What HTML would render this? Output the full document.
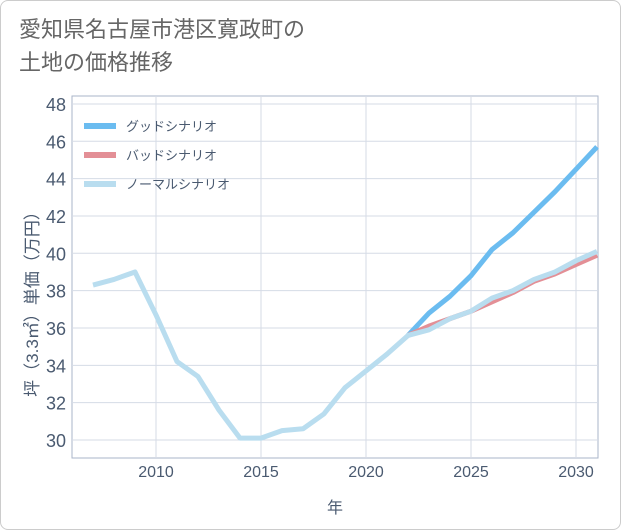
<!DOCTYPE html>
<html><head><meta charset="utf-8"><style>
body{margin:0;background:#fff;}
#wrap{position:relative;width:619px;height:528px;border:1px solid #ccc;border-radius:8px;background:#fff;overflow:hidden;font-family:"Liberation Sans","Noto Sans CJK JP",sans-serif;}
#title{position:absolute;left:18px;top:12px;font-size:22px;line-height:33px;color:#666;}
svg text{font-family:"Liberation Sans","Noto Sans CJK JP",sans-serif;}
</style></head><body>
<div id="wrap">
<div id="title">愛知県名古屋市港区寛政町の<br>土地の価格推移</div>
<svg id="chart" width="621" height="530" style="position:absolute;left:-1px;top:-1px"></svg>
</div>
<script>
const years=[2007,2008,2009,2010,2011,2012,2013,2014,2015,2016,2017,2018,2019,2020,2021,2022,2023,2024,2025,2026,2027,2028,2029,2030,2031];
const normalVals=[38.3,38.6,39.0,36.7,34.2,33.4,31.6,30.1,30.1,30.5,30.6,31.4,32.8,33.7,34.6,35.6,35.9,36.5,36.9,37.6,38.0,38.6,39.0,39.6,40.1];
const futureYears=[2022,2023,2024,2025,2026,2027,2028,2029,2030,2031];
const goodVals=[35.6,36.8,37.7,38.8,40.2,41.1,42.2,43.3,44.5,45.7];
const badVals=[35.6,36.1,36.5,36.9,37.4,37.9,38.5,38.9,39.4,39.9];
const yTicks=[30,32,34,36,38,40,42,44,46,48];
const xTicks=[2010,2015,2020,2025,2030];
const NS="http://www.w3.org/2000/svg";
const svg=document.getElementById('chart');
const L=72,R=598,T=96,B=458;
const xs=y=>156+(y-2010)*21;
const ys=v=>440-(v-30)*18.67;
function mk(t,a,p){const e=document.createElementNS(NS,t);for(const k in a)e.setAttribute(k,a[k]);(p||svg).appendChild(e);return e;}
const bg=mk('rect',{x:L,y:T,width:R-L,height:B-T,fill:'#fff',stroke:'#aab4c8'});


yTicks.forEach(v=>{
 const g=mk('line',{x1:L,x2:R,y1:ys(v),y2:ys(v),stroke:'#d5dbe6'});
 
 
 const t=mk('text',{x:66,y:ys(v)+7,'text-anchor':'end','font-size':18,fill:'#4a5a70'});
 t.textContent=v;
 
 
});
xTicks.forEach(v=>{
 const g=mk('line',{x1:xs(v),x2:xs(v),y1:T,y2:B,stroke:'#d5dbe6'});
 
 
 const t=mk('text',{x:xs(v),y:477,'text-anchor':'middle','font-size':16,fill:'#4a5a70'});
 t.textContent=v;
 
 
});
const xt=mk('text',{x:335,y:513,'text-anchor':'middle','font-size':16,fill:'#4a5a70'});
xt.textContent='年';


const yt=mk('text',{x:0,y:0,'text-anchor':'middle','font-size':17,fill:'#4a5a70',transform:'translate(38,300) rotate(-90)'});
yt.textContent='坪（3.3㎡）単価（万円）';


function line(xv,yv,color,name){
 const p=mk('polyline',{points:xv.map((x,i)=>xs(x)+','+ys(yv[i])).join(' '),fill:'none',stroke:color,'stroke-width':5,'stroke-linejoin':'round'});
 
 
}
line(futureYears,goodVals,'#6bbcf0','good-scenario-line');
line(futureYears,badVals,'#e38f96','bad-scenario-line');
line(years,normalVals,'#b9ddef','normal-scenario-line');
[['グッドシナリオ','#6bbcf0'],['バッドシナリオ','#e38f96'],['ノーマルシナリオ','#b9ddef']].forEach((d,i)=>{
 const y=126+i*29;
 const l=mk('line',{x1:84,x2:116,y1:y,y2:y,stroke:d[1],'stroke-width':6});
 
 
 const t=mk('text',{x:126,y:y+5,'font-size':13,fill:'#4a5a70'});
 t.textContent=d[0];
 
 
});
</script>
</body></html>
